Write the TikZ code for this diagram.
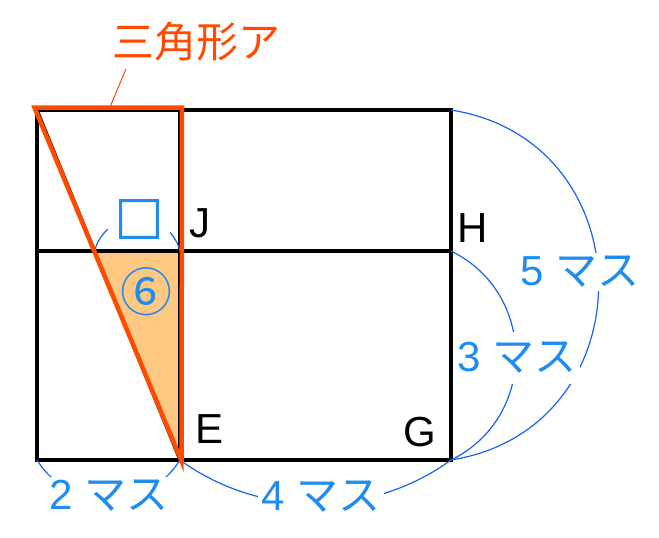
\documentclass[tikz,border=0pt]{standalone}
\usepackage{fontspec}
\setmainfont{Liberation Sans}
\newfontfamily\jp{Noto Sans CJK JP}
\newfontfamily\jpheavy[FakeBold=2.5]{Noto Sans CJK JP}
\usepackage{xcolor}
\usetikzlibrary{positioning}
\definecolor{triorange}{HTML}{FF4A00}
\definecolor{trifill}{HTML}{FFC882}
\definecolor{masublue}{HTML}{1E8CF0}
\definecolor{arcblue}{HTML}{1464F0}

\begin{document}
\begin{tikzpicture}[x=1pt, y=-1pt,
		grid/.style = {draw, line width=3.2pt},
		masu/.style = {draw=arcblue, line width=1.2pt},
		lbl/.style = {font=\fontsize{42}{48}\selectfont},
		masulbl/.style = {lbl, text=masublue, fill=white, inner sep=3pt}]
		\useasboundingbox (0,0) rectangle (659,538);
		
		\coordinate (tl) at (37,110);
		\coordinate (tm) at (180,110);
		\coordinate (tr) at (451,110);
		\coordinate (ml) at (37,251);
		\coordinate (k) at (94.6,251);
		\coordinate (j) at (180,251);
		\coordinate (h) at (451,251);
		\coordinate (bl) at (37,460);
		\coordinate (e) at (180,460);
		\coordinate (g) at (451,460);
		
		\fill[trifill] (k) -- (j) -- (e) -- cycle;
		
		\draw[grid] (tl) rectangle (g);
		\draw[grid] (ml) -- (h);
		\draw[grid] (tm) -- (e);
		\draw[grid] (tl) -- (e);
		
		\draw[masu] (tr) edge[bend left=81, looseness=1.46] (g);
		\draw[masu] (h) edge[bend left=64, looseness=1.18] (g);
		\draw[masu] (e) edge[bend right=36, looseness=0.94] (g);
		\draw[masu] (bl) edge[bend right=58, looseness=1.12] (e);
		\draw[masu] (k) edge[bend left=75, looseness=1.35] (j);
		
		\node[masulbl] (m5) at (580,272) {5 {\jp マス}};
		\node[masulbl, inner ysep=10pt] (m3) at (517,358) {3 {\jp マス}};
		\node[masulbl] (m4) at (321,497) {4 {\jp マス}};
		\node[masulbl] (m2) at (109,496) {2 {\jp マス}};
		\node[masulbl, inner xsep=7pt, font=\jpheavy\fontsize{48}{52}\selectfont] (sq) at (139,219) {□};
		\node[lbl, text=masublue, font=\jp\fontsize{52}{56}\selectfont] (six) at (146,292) {⑥};
		
		\node[lbl] (lj) at (200,223) {J};
		\node[lbl] (lh) at (473,228) {H};
		\node[lbl] (lg) at (420,432) {G};
		\node[lbl] (le) at (210,429) {E};
		
		% triangle outline
		\coordinate (ta) at (34.5,107.5);
		\coordinate (tb) at (182,107.5);
		\coordinate (tc) at (181.5,461);
		\draw[triorange, line width=4.5pt, line join=miter, miter limit=10] (ta) -- (tb) -- (tc) -- cycle;
		
		\node[lbl, text=triorange, font=\jp\fontsize{42}{48}\selectfont] (name) at (196,42) {三角形ア};
		\coordinate (lead) at (126,69);
		\coordinate (leadend) at (110,107);
		\draw[triorange, line width=1pt] (lead) -- (leadend);
	\end{tikzpicture}
\end{document}
